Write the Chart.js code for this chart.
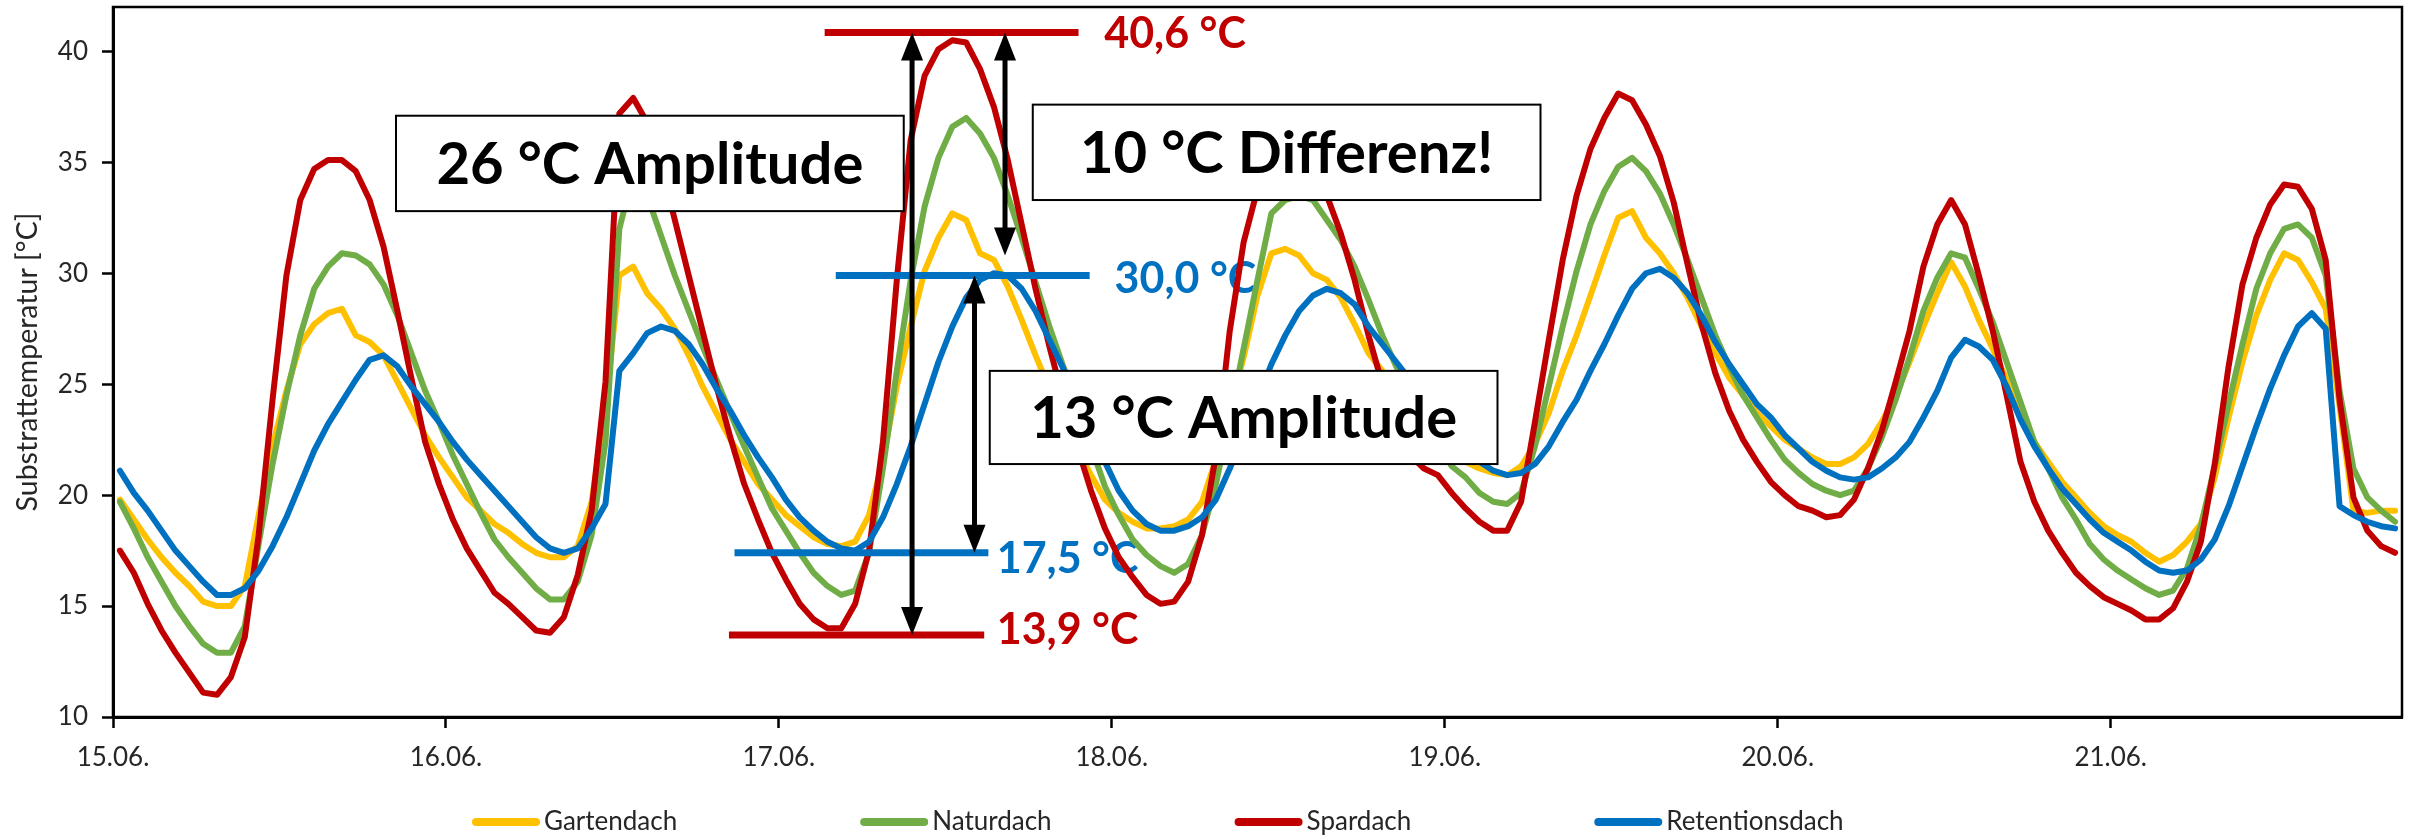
<!DOCTYPE html>
<html>
<head>
<meta charset="utf-8">
<script src="https://cdn.jsdelivr.net/npm/chart.js@4.4.1/dist/chart.umd.min.js"></script>
<style>
  html, body { margin: 0; padding: 0; background: #fff; }
  canvas { display: block; }
</style>
</head>
<body>
<canvas id="temp-chart" width="2418" height="837"></canvas>
<script>
// tick labels on the x axis, one per day (every 24 hourly values)
const dayLabels = ['15.06.', '16.06.', '17.06.', '18.06.', '19.06.', '20.06.', '21.06.'];

// hourly readings, each sits in the middle of its hour
const hours = Array.from({ length: 165 }, (_, i) => i + 0.5);

const gartendach = [
  19.8, 18.9, 18.0, 17.2, 16.5, 15.9, 15.2, 15.0, 15.0, 15.9, 19.1, 22.2, 24.7, 26.8, 27.7, 28.2, 28.4, 27.2, 26.9, 26.3, 25.1, 23.9, 22.7, 21.7,
  20.8, 19.9, 19.3, 18.7, 18.3, 17.8, 17.4, 17.2, 17.2, 17.7, 19.7, 23.9, 29.9, 30.3, 29.1, 28.4, 27.5, 26.3, 24.9, 23.7, 22.5, 21.5, 20.5, 19.8,
  19.1, 18.6, 18.1, 17.8, 17.7, 17.9, 19.1, 21.6, 24.9, 27.6, 30.1, 31.6, 32.7, 32.4, 30.9, 30.6, 29.4, 27.9, 26.3, 24.8, 23.5, 22.1, 20.9, 19.8,
  19.2, 18.8, 18.5, 18.5, 18.6, 18.9, 19.7, 21.6, 23.9, 26.2, 29.0, 30.9, 31.1, 30.8, 30.0, 29.7, 28.9, 27.7, 26.4, 25.6, 24.8, 24.0, 23.3, 22.6,
  22.0, 21.5, 21.2, 21.0, 20.9, 21.3, 22.3, 23.7, 25.6, 27.2, 29.0, 30.8, 32.5, 32.8, 31.6, 30.9, 30.0, 28.9, 27.6, 26.4, 25.3, 24.5, 23.7, 23.1,
  22.5, 22.1, 21.7, 21.4, 21.4, 21.7, 22.3, 23.3, 24.5, 26.0, 27.6, 29.1, 30.5, 29.4, 27.9, 26.6, 25.2, 23.8, 22.4, 21.5, 20.6, 19.9, 19.2, 18.6,
  18.2, 17.9, 17.4, 17.0, 17.3, 17.9, 18.7, 20.8, 23.5, 26.0, 28.1, 29.7, 30.9, 30.6, 29.6, 28.4, 24.0, 19.3, 19.2, 19.3, 19.3
];
const naturdach = [
  19.7, 18.5, 17.2, 16.1, 15.0, 14.1, 13.3, 12.9, 12.9, 14.1, 17.8, 21.4, 24.5, 27.2, 29.3, 30.3, 30.9, 30.8, 30.4, 29.5, 28.1, 26.4, 24.7, 23.3,
  21.8, 20.5, 19.2, 18.0, 17.2, 16.5, 15.8, 15.3, 15.3, 16.1, 18.2, 22.4, 32.0, 34.5, 33.5, 31.7, 29.9, 28.3, 26.7, 25.2, 23.7, 22.2, 20.8, 19.4,
  18.4, 17.4, 16.5, 15.9, 15.5, 15.7, 17.4, 21.2, 25.6, 29.7, 33.0, 35.2, 36.6, 37.0, 36.3, 35.2, 33.5, 31.6, 29.6, 27.6, 25.8, 24.1, 22.2, 20.4,
  19.1, 18.0, 17.3, 16.8, 16.5, 16.9, 18.2, 20.5, 23.5, 26.6, 29.7, 32.7, 33.3, 33.5, 33.3, 32.4, 31.5, 30.3, 28.8, 27.2, 25.8, 24.6, 23.4, 22.3,
  21.3, 20.8, 20.1, 19.7, 19.6, 20.1, 22.2, 24.9, 27.6, 30.1, 32.2, 33.7, 34.8, 35.2, 34.6, 33.6, 32.2, 30.6, 28.9, 27.2, 25.8, 24.5, 23.5, 22.5,
  21.6, 21.0, 20.5, 20.2, 20.0, 20.2, 21.2, 22.6, 24.3, 26.2, 28.3, 29.8, 30.9, 30.7, 29.3, 27.8, 26.0, 24.2, 22.4, 21.2, 19.9, 18.9, 17.8, 17.1,
  16.6, 16.2, 15.8, 15.5, 15.7, 16.7, 18.6, 21.3, 24.1, 26.8, 29.3, 30.9, 32.0, 32.2, 31.6, 29.9, 24.7, 21.2, 19.9, 19.3, 18.8
];
const spardach = [
  17.5, 16.5, 15.1, 13.9, 12.9, 12.0, 11.1, 11.0, 11.8, 13.6, 18.2, 24.3, 29.9, 33.3, 34.7, 35.1, 35.1, 34.6, 33.3, 31.2, 28.3, 25.3, 22.4, 20.5,
  18.9, 17.6, 16.6, 15.6, 15.1, 14.5, 13.9, 13.8, 14.5, 16.4, 19.3, 25.1, 37.2, 37.9, 36.8, 34.9, 32.4, 29.9, 27.4, 24.9, 22.6, 20.5, 18.9, 17.4,
  16.2, 15.1, 14.4, 14.0, 14.0, 15.1, 17.5, 22.4, 29.7, 36.0, 38.9, 40.1, 40.5, 40.4, 39.2, 37.5, 35.1, 32.2, 29.3, 26.7, 24.3, 22.2, 20.2, 18.5,
  17.2, 16.3, 15.5, 15.1, 15.2, 16.1, 18.2, 21.8, 27.4, 31.4, 33.8, 35.0, 36.0, 36.2, 35.5, 33.5, 31.8, 29.7, 27.2, 25.0, 23.2, 21.8, 21.2, 20.9,
  20.1, 19.4, 18.8, 18.4, 18.4, 19.7, 23.3, 27.0, 30.6, 33.5, 35.6, 37.0, 38.1, 37.8, 36.7, 35.3, 33.2, 30.4, 27.7, 25.5, 23.8, 22.5, 21.5, 20.6,
  20.0, 19.5, 19.3, 19.0, 19.1, 19.8, 21.2, 22.9, 25.1, 27.4, 30.3, 32.2, 33.3, 32.2, 29.9, 27.4, 24.5, 21.5, 19.7, 18.4, 17.4, 16.5, 15.9, 15.4,
  15.1, 14.8, 14.4, 14.4, 14.9, 16.1, 17.9, 21.4, 25.8, 29.5, 31.6, 33.1, 34.0, 33.9, 32.9, 30.6, 24.3, 19.9, 18.4, 17.7, 17.4
];
const retentionsdach = [
  21.1, 20.1, 19.3, 18.4, 17.5, 16.8, 16.1, 15.5, 15.5, 15.8, 16.6, 17.7, 19.0, 20.5, 22.0, 23.2, 24.2, 25.2, 26.1, 26.3, 25.8, 24.9, 24.1, 23.3,
  22.4, 21.6, 20.9, 20.2, 19.5, 18.8, 18.1, 17.6, 17.4, 17.6, 18.5, 19.6, 25.6, 26.4, 27.3, 27.6, 27.4, 26.8, 25.9, 24.8, 23.8, 22.7, 21.7, 20.8,
  19.8, 19.0, 18.4, 17.9, 17.6, 17.5, 17.9, 19.0, 20.5, 22.2, 24.1, 26.0, 27.6, 28.9, 29.7, 30.0, 29.9, 29.3, 28.3, 27.0, 25.7, 24.3, 22.8, 21.5,
  20.2, 19.3, 18.7, 18.4, 18.4, 18.6, 19.0, 19.8, 21.2, 22.7, 24.3, 25.9, 27.2, 28.3, 29.0, 29.3, 29.1, 28.6, 27.6, 26.8, 26.0, 25.2, 24.4, 23.6,
  22.8, 22.1, 21.5, 21.1, 20.9, 21.0, 21.4, 22.2, 23.3, 24.3, 25.6, 26.8, 28.1, 29.3, 30.0, 30.2, 29.8, 29.1, 28.1, 26.9, 25.9, 25.0, 24.1, 23.5,
  22.7, 22.1, 21.5, 21.1, 20.8, 20.7, 20.8, 21.2, 21.7, 22.4, 23.5, 24.7, 26.2, 27.0, 26.7, 26.1, 24.9, 23.4, 22.2, 21.2, 20.3, 19.6, 18.9, 18.3,
  17.9, 17.5, 17.0, 16.6, 16.5, 16.6, 17.1, 18.0, 19.5, 21.3, 23.1, 24.8, 26.3, 27.6, 28.2, 27.5, 19.5, 19.1, 18.8, 18.6, 18.5
];

const YELLOW = '#FFC000';
const GREEN = '#70AD47';
const RED = '#C00000';
const BLUE = '#0070C0';

// annotations, in hours / °C so they follow the scales
const markerLines = [
  { from: 51.3, to: 69.6, value: 40.85, color: RED },
  { from: 52.1, to: 70.4, value: 29.9, color: BLUE },
  { from: 44.8, to: 63.1, value: 17.4, color: BLUE },
  { from: 44.4, to: 62.8, value: 13.7, color: RED },
];
const markerLabels = [
  { text: '40,6 °C', at: 71.45, value: 40.8, color: RED },
  { text: '30,0 °C', at: 72.2, value: 29.75, color: BLUE },
  { text: '17,5 °C', at: 63.7, value: 17.1, color: BLUE },
  { text: '13,9 °C', at: 63.7, value: 13.9, color: RED },
];
const arrows = [
  { at: 57.6, from: 40.85, to: 13.7 },
  { at: 64.3, from: 40.85, to: 30.8 },
  { at: 62.1, from: 29.9, to: 17.4 },
];
const boxes = [
  { text: '26 °C Amplitude', x0: 20.4, x1: 57.0, top: 37.1, bottom: 32.8 },
  { text: '10 °C Differenz!', x0: 66.3, x1: 102.9, top: 37.6, bottom: 33.3 },
  { text: '13 °C Amplitude', x0: 63.2, x1: 99.8, top: 25.6, bottom: 21.4 },
];

function series(label, values, color, order) {
  return {
    label,
    data: values.map((v, i) => ({ x: hours[i], y: v })),
    borderColor: color,
    backgroundColor: color,
    borderWidth: 6,
    pointRadius: 0,
    tension: 0,
    borderJoinStyle: 'round',
    borderCapStyle: 'round',
    order, // blue is drawn last, like in the original
  };
}

const annotationPlugin = {
  id: 'annotations',
  beforeDatasetsDraw(chart) {
    // the value labels lie under the curves
    const { ctx, scales: { x, y } } = chart;
    ctx.save();
    ctx.font = 'bold 43px Lato';
    ctx.textBaseline = 'middle';
    markerLabels.forEach(l => {
      ctx.fillStyle = l.color;
      ctx.fillText(l.text, x.getPixelForValue(l.at), y.getPixelForValue(l.value));
    });
    ctx.restore();
  },
  afterDatasetsDraw(chart) {
    const { ctx, scales: { x, y } } = chart;
    ctx.save();

    boxes.forEach(b => {
      const left = x.getPixelForValue(b.x0);
      const right = x.getPixelForValue(b.x1);
      const top = y.getPixelForValue(b.top);
      const bottom = y.getPixelForValue(b.bottom);
      ctx.fillStyle = '#fff';
      ctx.fillRect(left, top, right - left, bottom - top);
      ctx.strokeStyle = '#000';
      ctx.lineWidth = 2;
      ctx.strokeRect(left, top, right - left, bottom - top);
      ctx.fillStyle = '#000';
      ctx.font = 'bold 58px Lato';
      ctx.textAlign = 'center';
      ctx.textBaseline = 'middle';
      ctx.fillText(b.text, (left + right) / 2, (top + bottom) / 2 + 2);
    });

    ctx.lineCap = 'butt';
    markerLines.forEach(l => {
      const py = y.getPixelForValue(l.value);
      ctx.strokeStyle = l.color;
      ctx.lineWidth = 7;
      ctx.beginPath();
      ctx.moveTo(x.getPixelForValue(l.from), py);
      ctx.lineTo(x.getPixelForValue(l.to), py);
      ctx.stroke();
    });

    // double headed arrows
    const head = 28, half = 11;
    ctx.fillStyle = '#000';
    ctx.strokeStyle = '#000';
    ctx.lineWidth = 5;
    arrows.forEach(a => {
      const px = x.getPixelForValue(a.at);
      const top = y.getPixelForValue(a.from);
      const bottom = y.getPixelForValue(a.to);
      ctx.beginPath();
      ctx.moveTo(px, top + head - 2);
      ctx.lineTo(px, bottom - head + 2);
      ctx.stroke();
      ctx.beginPath();
      ctx.moveTo(px, top);
      ctx.lineTo(px - half, top + head);
      ctx.lineTo(px + half, top + head);
      ctx.closePath();
      ctx.fill();
      ctx.beginPath();
      ctx.moveTo(px, bottom);
      ctx.lineTo(px - half, bottom - head);
      ctx.lineTo(px + half, bottom - head);
      ctx.closePath();
      ctx.fill();
    });

    // box round the plot area
    const area = chart.chartArea;
    ctx.strokeStyle = '#000';
    ctx.lineWidth = 2.5;
    ctx.strokeRect(area.left, area.top, area.right - area.left, area.bottom - area.top);
    ctx.restore();
  }
};

// legend at the bottom, wide gaps like the Excel one
const bottomLegend = {
  id: 'bottomLegend',
  afterDraw(chart) {
    const ctx = chart.ctx;
    ctx.save();
    ctx.font = '26px Lato';
    ctx.textBaseline = 'middle';
    let left = 472;
    const mid = 822;
    chart.data.datasets.forEach(ds => {
      ctx.strokeStyle = ds.borderColor;
      ctx.lineWidth = 8;
      ctx.lineCap = 'round';
      ctx.beginPath();
      ctx.moveTo(left + 4, mid);
      ctx.lineTo(left + 64, mid);
      ctx.stroke();
      ctx.fillStyle = '#262626';
      ctx.fillText(ds.label, left + 72, mid);
      left += 72 + ctx.measureText(ds.label).width + 183;
    });
    ctx.restore();
  }
};

const tickFont = { family: 'Lato', size: 26 };

new Chart(document.getElementById('temp-chart'), {
  type: 'line',
  data: {
    datasets: [
      series('Gartendach', gartendach, YELLOW, 4),
      series('Naturdach', naturdach, GREEN, 3),
      series('Spardach', spardach, RED, 2),
      series('Retentionsdach', retentionsdach, BLUE, 1),
    ],
  },
  options: {
    responsive: false,
    animation: false,
    layout: { padding: { top: 7, right: 16, bottom: 0, left: 0 } },
    plugins: {
      legend: { display: false },
      tooltip: { enabled: false },
    },
    scales: {
      x: {
        type: 'linear',
        min: 0,
        max: 165,
        afterBuildTicks: (scale) => {
          scale.ticks = dayLabels.map((_, i) => ({ value: i * 24 }));
        },
        ticks: {
          callback: (value) => dayLabels[value / 24],
          font: tickFont,
          color: '#262626',
          padding: 14,
          maxRotation: 0,
          autoSkip: false,
        },
        grid: { drawOnChartArea: false, tickLength: 11, tickWidth: 2.5, color: '#000' },
        border: { color: '#000', width: 3 },
        afterFit: (scale) => { scale.height = 120; },
      },
      y: {
        min: 10,
        max: 42,
        ticks: {
          stepSize: 5,
          includeBounds: false,
          font: tickFont,
          color: '#262626',
          padding: 14,
        },
        grid: { drawOnChartArea: false, tickLength: 11, tickWidth: 2.5, color: '#000' },
        border: { color: '#000', width: 3 },
        title: {
          display: true,
          text: 'Substrattemperatur [°C]',
          font: { family: 'Lato', size: 28.5 },
          color: '#262626',
          padding: { top: 11, bottom: 0 },
        },
        afterFit: (scale) => {
          scale.width = 113;
          // the top tick is 40, not the max, so no room is needed above it
          scale.paddingTop = 0;
          scale.paddingBottom = 0;
        },
      },
    },
  },
  plugins: [annotationPlugin, bottomLegend],
});
</script>
</body>
</html>
